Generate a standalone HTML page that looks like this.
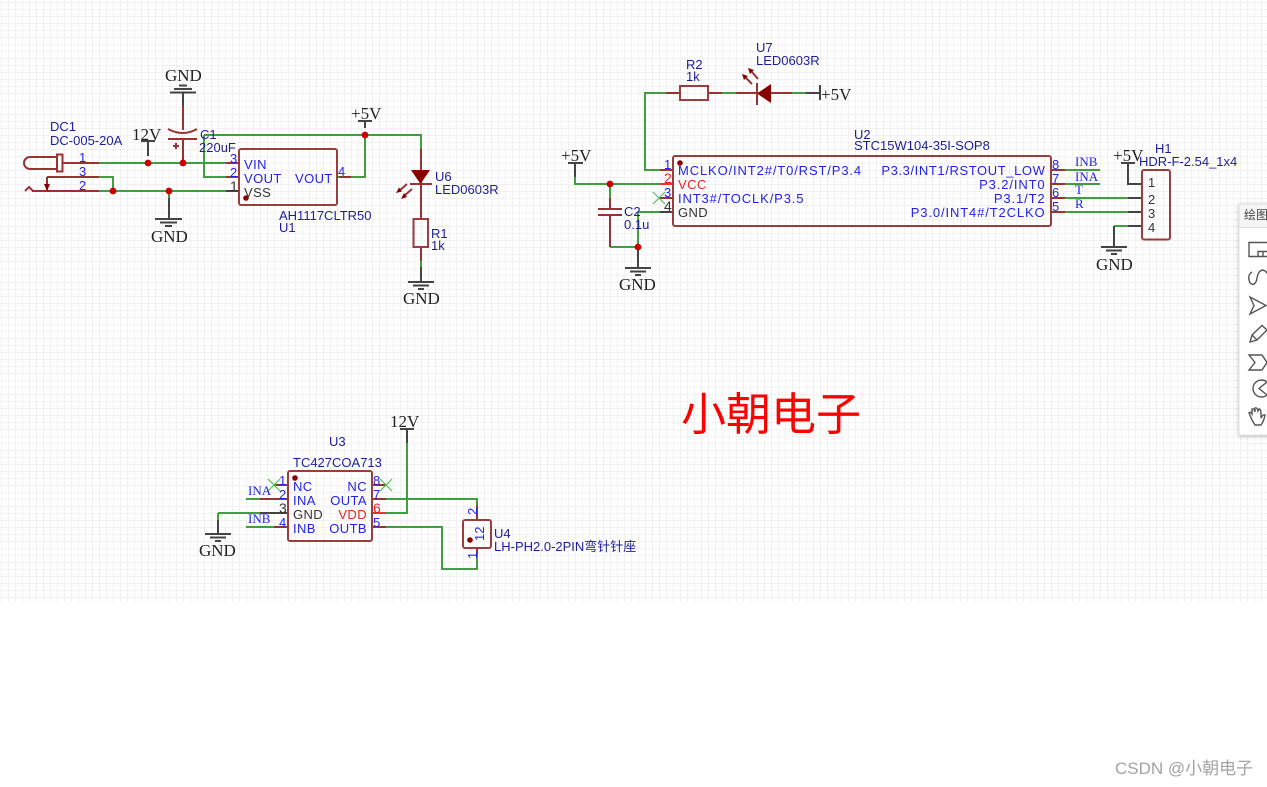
<!DOCTYPE html>
<html><head><meta charset="utf-8">
<style>
html,body{margin:0;padding:0;background:#fff;width:1267px;height:787px;overflow:hidden}
svg{display:block;position:absolute;left:0;top:0}
text{font-family:"Liberation Sans","Noto Sans CJK SC",sans-serif;font-size:13px;white-space:pre}
.w{fill:none;stroke:#3f9f3f;stroke-width:2}
.p{fill:none;stroke:#993333;stroke-width:2}
.k{fill:none;stroke:#444;stroke-width:2}
.b{fill:none;stroke:#9c3c3c;stroke-width:2}
.x{fill:none;stroke:#4fc04f;stroke-width:1.2}
.j{fill:#cc0000}
.d{fill:#880000}
.n{fill:#1d1d9c}
.l{fill:#2222ee}
.r{fill:#ee2222}
.g{fill:#333}
.e{text-anchor:end}
.t{font-family:"Liberation Serif",serif;font-size:17px;fill:#222}
.s{font-family:"Liberation Serif",serif;font-size:13px;fill:#2222ee}
.m{font-size:14px;fill:#2222ee}
.i{fill:none;stroke:#555;stroke-width:1.4}
</style></head><body>
<svg width="1267" height="787" viewBox="0 0 1267 787">
<defs><pattern id="gr" x="5" y="6" width="7" height="7" patternUnits="userSpaceOnUse"><path d="M3.5 0V7M0 3.5H7" fill="none" stroke="#f1f1f1" stroke-width="1"/></pattern></defs>
<rect x="0" y="0" width="1267" height="602" fill="url(#gr)"/>

<!-- wires -->
<path class="w" d="M99 163H226M99 191H226M99 177H113V191M204 135V177H226M204 135H421V149M338 177H365V135M421 261V267"/>
<path class="w" d="M660 170H645V93H666M722 93H736M792 93H806M575 177V184H660M610 184V198M610 247H638M638 212V247M638 212H660"/>
<path class="w" d="M1065 170H1100M1065 184H1100M1065 198H1128M1065 212H1128M1128 177V184M1114 226H1128"/>
<path class="w" d="M246 499H260M246 527H274M218 513H260M218 513V520M386 499H477V505M386 513H407V443M386 527H442V569H477V555"/>

<!-- pins -->
<path class="p" d="M63 163H99M32 191H99M47 177H99M226 163H239M226 177H239M339 177H351M421 149V219M421 247V261"/>
<path class="p" d="M183 106V130M183 139V163M610 198V209M610 215V247M660 170H673M660 198H673M666 93H680M708 93H722M736 93H792M1051 170H1065M1051 184H1065M1051 198H1065M1051 212H1065"/>
<path class="p" d="M274 485H288M260 499H288M274 527H288M372 485H386M372 499H386M372 527H386M477 505V520M477 548V555"/>
<path d="M372 513H386" fill="none" stroke="#ee3333" stroke-width="2"/>
<path d="M660 184H673" fill="none" stroke="#ee3333" stroke-width="2"/>

<!-- dark pins/nets -->
<path class="k" d="M226 191H239M148 141V156M183 93V106M365 121V128M421 267V282M169 198V219M638 247V268M806 93H820M575 163V177M660 212H673M1128 170V184H1142M1128 198H1142M1128 212H1142M1128 226H1142M1114 226V247M1128 163V177M218 520V534M260 513H288M407 429V443"/>
<path class="k" d="M141 141H155M170 92.500H196M174 89H192M179 85.500H187M358 121H372M408 282H434M413 285.500H429M418 289H424M155 219H182M160 222.500H177M165 226H172M820 85V100M568 163H583M625 268H651M630 271.500H646M635 275H641M1121 163H1135M1101 247H1127M1106 250.500H1122M1111 254H1117M205 534H231M210 537.500H226M215 541H221M400 429H414"/>
<path class="w" d="M169 191V198"/>
<path class="p" d="M47 177V191" />
<path class="d" d="M44 184H50L47 191Z"/>

<!-- DC1 -->
<path class="p" d="M57 157H30A6 6 0 0 0 30 169H57"/>
<rect class="p" x="57" y="154.500" width="5.500" height="17"/>
<path class="p" d="M25 191L29 187L33 191"/>

<!-- C1 C2 -->
<path class="p" d="M168 129Q183 137 197 129"/>
<path class="p" d="M168 139H197"/>
<path class="p" d="M173 146H179M176 143V149"/>
<path class="p" d="M598 209H622M598 215H622"/>

<!-- chips -->
<rect class="b" x="239" y="149" width="98" height="56" rx="2"/>
<rect class="b" x="673" y="156" width="378" height="70" rx="2"/>
<rect class="b" x="1142" y="170" width="28" height="69.500" rx="2"/>
<rect class="b" x="288" y="471" width="84" height="70" rx="2"/>
<rect class="b" x="463" y="520" width="28" height="28" rx="2"/>
<rect class="b" x="413.500" y="219" width="14.500" height="28"/>
<rect class="b" x="680" y="86" width="28" height="14"/>
<circle class="d" cx="246" cy="198" r="2.800"/>
<circle class="d" cx="680" cy="163" r="2.800"/>
<circle class="d" cx="295" cy="478" r="2.800"/>
<circle class="d" cx="470" cy="540" r="2.800"/>

<!-- LEDs -->
<path class="d" d="M411 170H430L420.500 184Z"/>
<path class="p" d="M410 184H432"/>
<path class="p" d="M407 184L399 191M412 189L404 196"/>
<path class="d" d="M396 193L402 191.500L399 187.500ZM401 199L407 197L404 193Z"/>
<path class="d" d="M771 84V103L757 93.500Z"/>
<path class="p" d="M757 83V105"/>
<path class="p" d="M752 84L746 78M758 79L752 72"/>
<path class="d" d="M742 74L748 76L744 80ZM748 68L754 70L750 74Z"/>

<!-- junctions -->
<g class="j"><circle cx="148" cy="163" r="3.400"/><circle cx="183" cy="163" r="3.400"/><circle cx="113" cy="191" r="3.400"/><circle cx="169" cy="191" r="3.400"/><circle cx="365" cy="135" r="3.400"/><circle cx="610" cy="184" r="3.400"/><circle cx="638" cy="247" r="3.400"/></g>

<!-- no-connect -->
<path class="x" d="M653 192L665 204M653 204L665 192M268 479L280 491M268 491L280 479M380 479L392 491M380 491L392 479"/>

<!-- net labels -->
<text class="t" x="165" y="81">GND</text>
<text class="t" x="132" y="140">12V</text>
<text class="t" x="151" y="242">GND</text>
<text class="t" x="351" y="119">+5V</text>
<text class="t" x="403" y="304">GND</text>
<text class="t" x="561" y="161">+5V</text>
<text class="t" x="619" y="290">GND</text>
<text class="t" x="821" y="100">+5V</text>
<text class="t" x="1113" y="161">+5V</text>
<text class="t" x="1096" y="270">GND</text>
<text class="t" x="390" y="427">12V</text>
<text class="t" x="199" y="556">GND</text>
<text class="s" x="1075" y="166">INB</text>
<text class="s" x="1075" y="181">INA</text>
<text class="s" x="1075" y="194">T</text>
<text class="s" x="1075" y="208">R</text>
<text class="s" x="248" y="495">INA</text>
<text class="s" x="248" y="523">INB</text>

<!-- designators -->
<g class="n">
<text x="50" y="131">DC1</text><text x="50" y="145">DC-005-20A</text>
<text x="200" y="139">C1</text><text x="199" y="152">220uF</text>
<text x="279" y="220">AH1117CLTR50</text><text x="279" y="232">U1</text>
<text x="435" y="181">U6</text><text x="435" y="194">LED0603R</text>
<text x="431" y="238">R1</text><text x="431" y="250">1k</text>
<text x="686" y="69">R2</text><text x="686" y="81">1k</text>
<text x="756" y="52">U7</text><text x="756" y="65">LED0603R</text>
<text x="854" y="139">U2</text><text x="854" y="150">STC15W104-35I-SOP8</text>
<text x="624" y="216">C2</text><text x="624" y="229">0.1u</text>
<text x="1155" y="153">H1</text><text x="1139" y="166">HDR-F-2.54_1x4</text>
<text x="329" y="446">U3</text><text x="293" y="467">TC427COA713</text>
<text x="494" y="538">U4</text><text x="494" y="551">LH-PH2.0-2PIN弯针针座</text>
</g>

<!-- pin names -->
<g class="l" style="letter-spacing:.4px">
<text x="244" y="169">VIN</text><text x="244" y="183">VOUT</text><text x="295" y="183">VOUT</text>
<text x="293" y="491">NC</text><text x="293" y="505">INA</text><text x="293" y="533">INB</text>
<text class="e" x="367" y="491">NC</text><text class="e" x="367" y="505">OUTA</text><text class="e" x="367" y="533">OUTB</text>
</g>
<g class="l" style="letter-spacing:.87px">
<text x="678" y="175">MCLKO/INT2#/T0/RST/P3.4</text>
<text x="678" y="203">INT3#/TOCLK/P3.5</text>
<text class="e" x="1045.500" y="189">P3.2/INT0</text>
<text class="e" x="1045.500" y="203">P3.1/T2</text>
<text class="e" x="1045.500" y="217">P3.0/INT4#/T2CLKO</text>
</g>
<text class="l e" style="letter-spacing:.6px" x="1045.500" y="175">P3.3/INT1/RSTOUT_LOW</text>
<g style="letter-spacing:.4px">
<text class="g" x="244" y="197">VSS</text>
<text class="r" x="678" y="189">VCC</text>
<text class="g" x="678" y="217">GND</text>
<text class="g" x="293" y="519">GND</text>
<text class="r e" x="367" y="519">VDD</text>
</g>

<!-- pin numbers -->
<g class="m">
<text x="79" y="162">1</text><text x="79" y="176">3</text><text x="79" y="190">2</text>
<text x="230" y="163">3</text><text x="230" y="177">2</text>
<text x="338" y="176">4</text>
<text x="664" y="169">1</text><text x="664" y="197">3</text>
<text x="1052" y="169">8</text><text x="1052" y="183">7</text><text x="1052" y="197">6</text><text x="1052" y="211">5</text>
<text x="279" y="485">1</text><text x="279" y="499">2</text><text x="279" y="527">4</text>
<text x="373" y="485">8</text><text x="373" y="499">7</text><text x="373" y="527">5</text>
<text transform="translate(477 515) rotate(-90)">2</text>
<text transform="translate(477 559) rotate(-90)">1</text>
<text transform="translate(484 541) rotate(-90)">12</text>
</g>
<text class="g" style="font-size:14px" x="230" y="191">1</text>
<text class="g" style="font-size:14px" x="664" y="211">4</text>
<text class="g" style="font-size:14px" x="279" y="513">3</text>
<text class="r" style="font-size:14px" x="664" y="183">2</text>
<text class="r" style="font-size:14px" x="373" y="513">6</text>
<g class="g">
<text x="1148" y="187">1</text><text x="1148" y="204">2</text><text x="1148" y="218">3</text><text x="1148" y="232">4</text>
</g>

<!-- title + watermark -->
<text x="681" y="430" style="font-size:45px;fill:#ff0000;font-family:'Noto Sans CJK SC',sans-serif">小朝电子</text>
<text x="1115" y="774" style="font-size:17px;fill:#a3a3a3">CSDN @小朝电子</text>

<!-- toolbar -->
<rect x="1239" y="204" width="40" height="231" fill="#fff" stroke="#e0e0e0" style="filter:drop-shadow(0 1px 2px rgba(0,0,0,.25))"/>
<rect x="1239.500" y="204.500" width="30" height="22.500" fill="#f5f5f5"/>
<path d="M1239 227.500H1267" stroke="#ddd"/>
<text x="1244" y="219" style="fill:#444;font-size:12px">绘图</text>
<path class="i" d="M1268 242.500H1249V256.500H1268M1258 256.500V251.500H1268M1263 251.500V256.500"/>
<path class="i" d="M1268 274C1262 266 1258 272 1257 278C1256 286 1250 286 1249 280C1248 276 1250 273 1252 272"/>
<path class="i" d="M1250 297L1266 305.500L1250 314L1254 305.500Z"/>
<path class="i" d="M1250 342L1252 335L1262 325.500L1267 330L1257 340ZM1252 335L1257 340"/>
<path class="i" d="M1249 355H1262L1267 362.500L1262 370H1249L1255 362.500Z"/>
<path class="i" d="M1267 382A8.500 8.500 0 1 0 1267 395L1259 388.500Z"/>
<path class="i" d="M1252 420L1249 413Q1250 411 1252 414L1252 409Q1254 408 1255 412L1255 408Q1257 407 1258 411L1259 409Q1261 409 1261 413L1261 418Q1263 414 1265 415Q1264 421 1261 425H1255Z"/>
</svg>
</body></html>
